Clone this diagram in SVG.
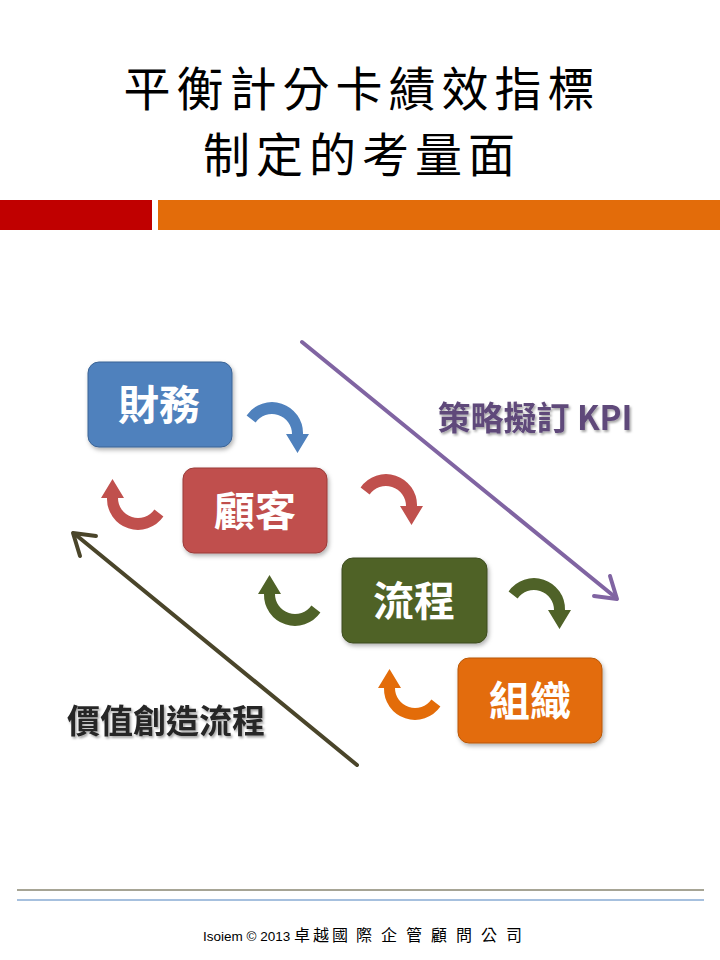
<svg xmlns="http://www.w3.org/2000/svg" width="720" height="960" viewBox="0 0 720 960">
<defs>
<style>
.title{font-family:"Noto Sans CJK TC","Noto Sans CJK SC",sans-serif;font-size:47px;font-weight:400;fill:#000;text-anchor:middle;letter-spacing:6px}
.nlabel{font-family:"Noto Sans CJK TC","Noto Sans CJK SC",sans-serif;font-size:41px;font-weight:700;fill:#fff;text-anchor:middle}
.lbl{font-family:"Noto Sans CJK TC","Noto Sans CJK SC",sans-serif;font-weight:700;font-size:33px}
.foot{font-family:"Liberation Sans","Noto Sans CJK TC",sans-serif;font-size:13.5px;fill:#000}
.footc{font-family:"Noto Sans CJK TC",sans-serif;font-size:16px}
</style>
<filter id="sh" x="-20%" y="-20%" width="140%" height="150%">
<feDropShadow dx="1.5" dy="2.5" stdDeviation="2" flood-color="#000" flood-opacity="0.3"/>
</filter>
<filter id="tsh" x="-10%" y="-20%" width="120%" height="150%">
<feDropShadow dx="1.5" dy="2" stdDeviation="1.2" flood-color="#000" flood-opacity="0.35"/>
</filter>
<path id="carrow" d="M -25.4,-18.6 A 31 31 0 0 1 31 0 L 37 0 L 25.5 19 L 14 0 L 20 0 A 20 20 0 0 0 -16.4 -11.5 Z"/>
</defs>
<rect width="720" height="960" fill="#fff"/>
<g id="title">
<text class="title" x="362" y="106">平衡計分卡績效指標</text>
<text class="title" x="362" y="172">制定的考量面</text>
</g>
<g id="bars">
<rect x="0" y="200" width="152" height="30" fill="#C00000"/>
<rect x="158" y="200" width="562" height="30" fill="#E36C0A"/>
</g>
<g id="connectors">
<line x1="302" y1="342" x2="615" y2="597" stroke="#8064A2" stroke-width="4" stroke-linecap="round"/>
<polyline points="610,576 617,599 594,596" fill="none" stroke="#8064A2" stroke-width="4" stroke-linecap="round" stroke-linejoin="round"/>
<line x1="357" y1="765" x2="76" y2="535" stroke="#4A452A" stroke-width="4" stroke-linecap="round"/>
<polyline points="80,556 73,533 96,536" fill="none" stroke="#4A452A" stroke-width="4" stroke-linecap="round" stroke-linejoin="round"/>
<use href="#carrow" transform="translate(272,434)" fill="#4F81BD"/>
<use href="#carrow" transform="translate(386,506)" fill="#C0504D"/>
<use href="#carrow" transform="translate(534,610)" fill="#4F6228"/>
<use href="#carrow" transform="translate(138,498) rotate(180)" fill="#C0504D"/>
<use href="#carrow" transform="translate(295,594) rotate(180)" fill="#4F6228"/>
<use href="#carrow" transform="translate(415,688) rotate(180)" fill="#E36C09"/>
</g>
<g id="node-finance">
<rect x="88" y="362" width="144" height="85" rx="11" fill="#4F81BD" stroke="#3A6395" stroke-width="1" filter="url(#sh)"/>
<text class="nlabel" x="159" y="420">財務</text>
</g>
<g id="node-customer">
<rect x="183" y="468" width="144" height="85" rx="11" fill="#C0504D" stroke="#9A3B39" stroke-width="1" filter="url(#sh)"/>
<text class="nlabel" x="255" y="526">顧客</text>
</g>
<g id="node-process">
<rect x="342" y="558" width="145" height="85" rx="11" fill="#4F6228" stroke="#3D4C1F" stroke-width="1" filter="url(#sh)"/>
<text class="nlabel" x="414" y="616">流程</text>
</g>
<g id="node-org">
<rect x="458" y="658" width="144" height="85" rx="11" fill="#E36C09" stroke="#B85707" stroke-width="1" filter="url(#sh)"/>
<text class="nlabel" x="530" y="716">組織</text>
</g>
<g id="labels">
<text class="lbl" x="535" y="430" text-anchor="middle" fill="#5F497A" filter="url(#tsh)">策略擬訂 KPI</text>
<text class="lbl" x="166" y="733" text-anchor="middle" fill="#262626" filter="url(#tsh)">價值創造流程</text>
</g>
<g id="footer">
<line x1="17" y1="890" x2="704" y2="890" stroke="#4F4A2A" stroke-width="1"/>
<line x1="17" y1="900" x2="704" y2="900" stroke="#4F81BD" stroke-width="1"/>
<text class="foot" y="941"><tspan x="203">Isoiem © 2013</tspan><tspan class="footc" x="294">卓</tspan><tspan class="footc" x="313">越</tspan><tspan class="footc" x="332">國</tspan><tspan class="footc" x="356">際</tspan><tspan class="footc" x="381">企</tspan><tspan class="footc" x="406">管</tspan><tspan class="footc" x="431">顧</tspan><tspan class="footc" x="456">問</tspan><tspan class="footc" x="481">公</tspan><tspan class="footc" x="506">司</tspan></text>
</g>
</svg>
